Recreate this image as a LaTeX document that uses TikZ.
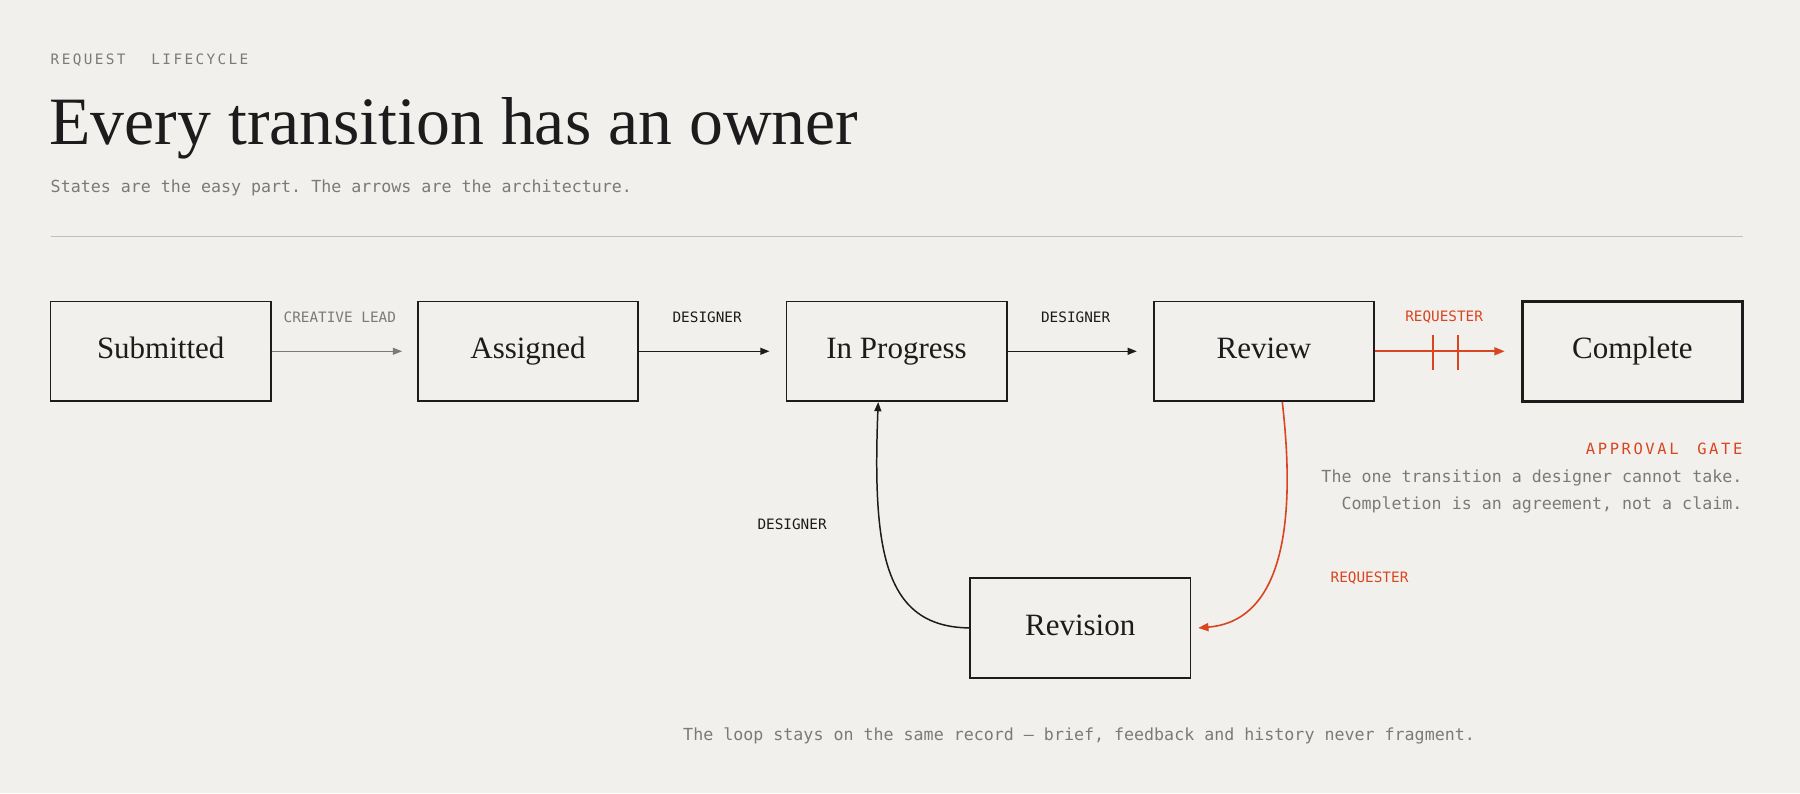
\documentclass[tikz,border=0pt]{standalone}
\usepackage{fontspec}
\setmainfont{Liberation Serif}
\setmonofont{DejaVu Sans Mono}
\usetikzlibrary{arrows.meta}
\definecolor{bg}{HTML}{F1F0ED}
\definecolor{ink}{HTML}{1C1C1C}
\definecolor{gr}{HTML}{7A7A78}
\definecolor{rd}{HTML}{D9451F}
\begin{document}
\begin{tikzpicture}[x=1pt,y=-1pt,
 box/.style={draw=ink,line width=1.4pt,minimum width=192pt,minimum height=87pt,font=\fontsize{27}{30}\selectfont,text=ink,text height=19pt,text depth=6pt},
 lab/.style={font=\ttfamily\fontsize{12.5}{14}\selectfont},
 arr/.style={-{Triangle[length=8pt,width=6pt]},line width=1.3pt,draw=ink}]
\fill[bg] (0,0) rectangle (1568,691);
\useasboundingbox (0,0) rectangle (1568,691);
\node[anchor=west,text=gr,font=\ttfamily\fontsize{12.5}{14}\selectfont,inner sep=0] (kick) at (44,52) {R\,E\,Q\,U\,E\,S\,T\ \ \ L\,I\,F\,E\,C\,Y\,C\,L\,E};
\node[anchor=west,text=ink,font=\fontsize{59}{64}\selectfont,inner sep=0] (title) at (43,112) {Every transition has an owner};
\node[anchor=west,text=gr,font=\ttfamily\fontsize{14.5}{16}\selectfont,inner sep=0] (sub) at (44,164) {States are the easy part. The arrows are the architecture.};
\draw[gray!50,line width=1pt] (44,206) -- (1518,206);
\node[box] (s) at (140,306) {Submitted};
\node[box] (a) at (460,306) {Assigned};
\node[box] (p) at (781,306) {In Progress};
\node[box] (r) at (1101,306) {Review};
\node[box,line width=2.6pt] (c) at (1422,306) {Complete};
\node[box] (v) at (941,547) {Revision};
\draw[arr,draw=gr,line width=1.1pt,-{Triangle[length=8pt,width=6pt,fill=gr]}] (s) -- ([xshift=-13pt]a.west);
\node[lab,text=gr] (l1) at (296,276) {CREATIVE LEAD};
\draw[arr] (a) -- ([xshift=-14pt]p.west);
\node[lab,text=ink] (l2) at (616,276) {DESIGNER};
\draw[arr] (p) -- ([xshift=-14pt]r.west);
\node[lab,text=ink] (l3) at (937,276) {DESIGNER};
\draw[arr,draw=rd,line width=1.5pt,-{Triangle[length=9pt,width=7pt,fill=rd]}] (r) -- ([xshift=-14pt]c.west);
\draw[rd,line width=1.5pt] (1248,292) -- (1248,322) (1270,292) -- (1270,322);
\node[lab,text=rd] (l4) at (1258,276) {REQUESTER};
\draw[arr] (v.west) .. controls (770,546) and (760,480) .. ([xshift=-16pt]p.south);
\node[lab,text=ink] (l5) at (690,457) {DESIGNER};
\draw[arr,draw=rd,line width=1.4pt,-{Triangle[length=9pt,width=7pt,fill=rd]}] ([xshift=16pt]r.south) .. controls (1125,420) and (1130,540) .. ([xshift=6pt]v.east);
\node[lab,text=rd] (l6) at (1193,504) {REQUESTER};
\node[anchor=east,text=rd,font=\ttfamily\fontsize{13.5}{15}\selectfont,inner sep=0] (g) at (1518,391) {A\,P\,P\,R\,O\,V\,A\,L\ \ G\,A\,T\,E};
\node[anchor=east,text=gr,font=\ttfamily\fontsize{14.5}{16}\selectfont,inner sep=0] (g1) at (1518,416) {The one transition a designer cannot take.};
\node[anchor=east,text=gr,font=\ttfamily\fontsize{14.5}{16}\selectfont,inner sep=0] (g2) at (1518,440) {Completion is an agreement, not a claim.};
\node[text=gr,font=\ttfamily\fontsize{14.5}{16}\selectfont,inner sep=0] (cap) at (940,641) {The loop stays on the same record — brief, feedback and history never fragment.};
\end{tikzpicture}
\end{document}
